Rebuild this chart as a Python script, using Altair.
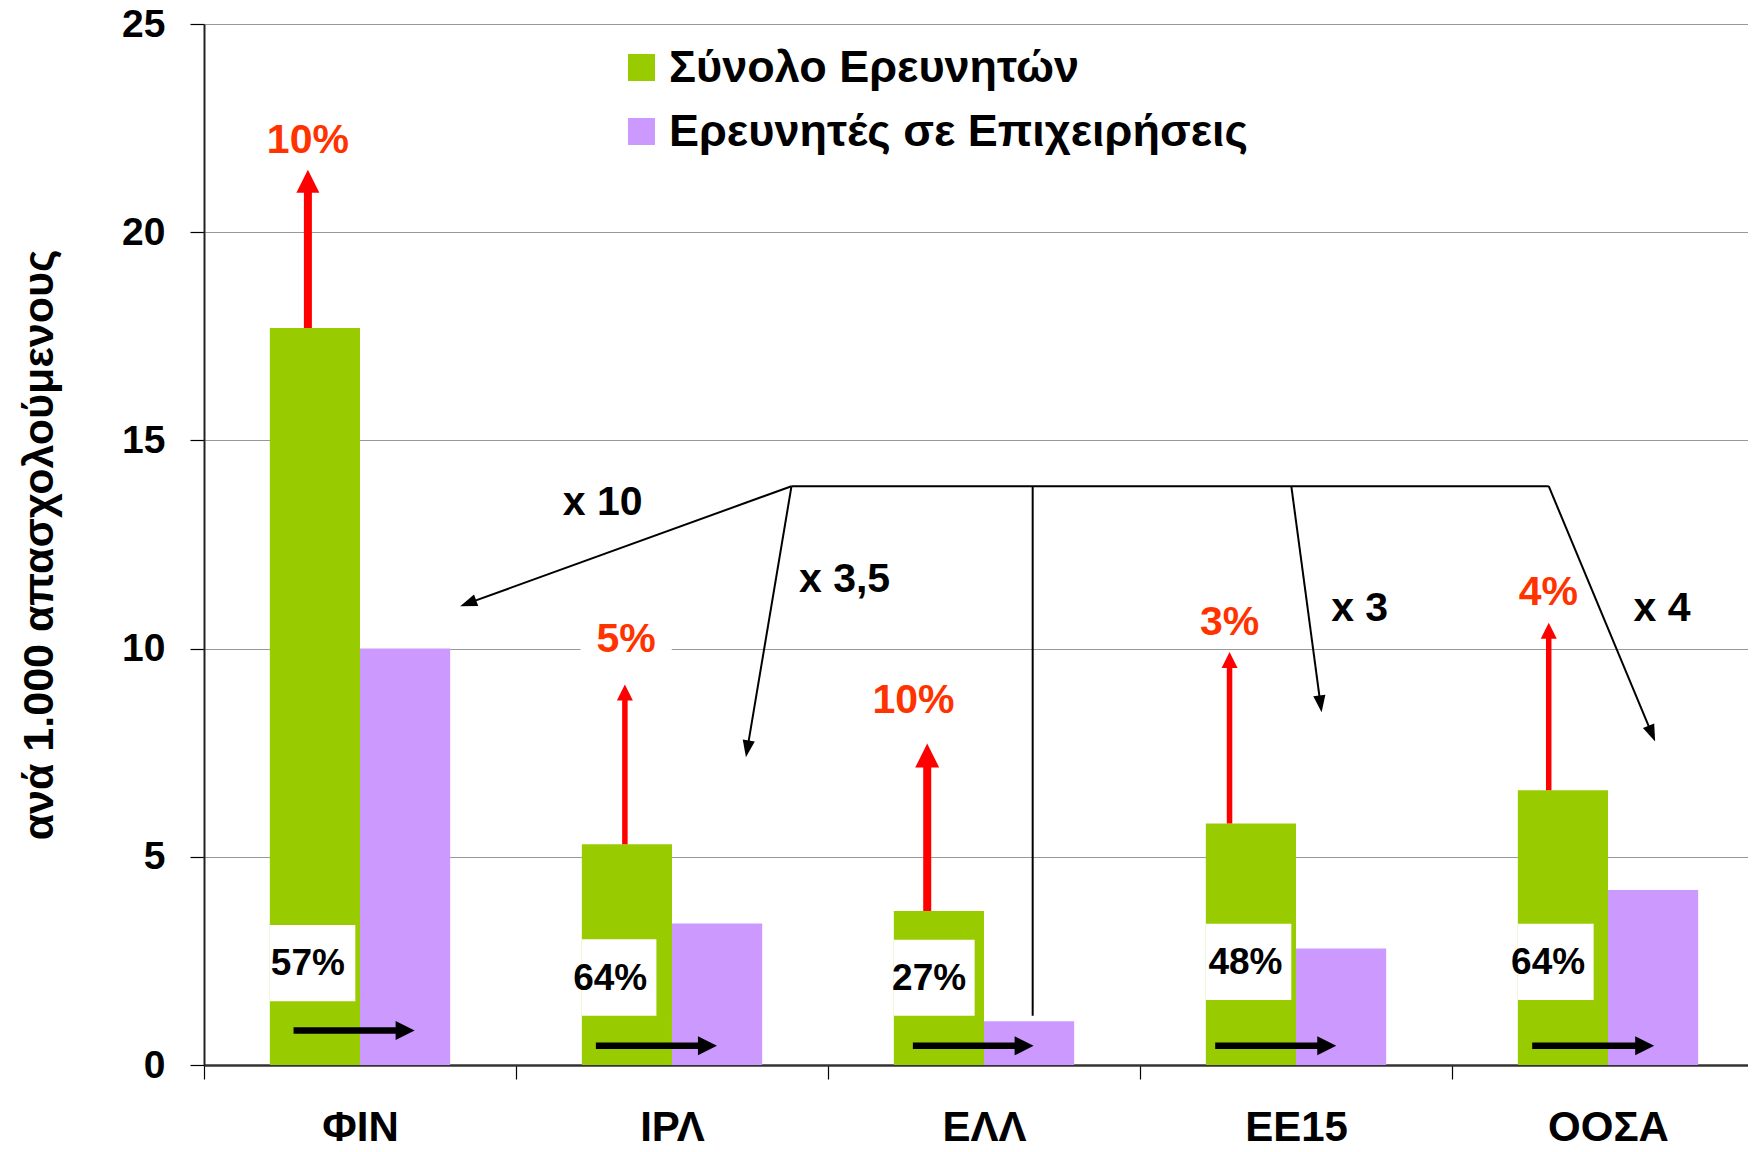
import math
import json
import altair as alt
import pandas as pd

# ---------------- data ----------------
categories = ["ΦΙΝ", "ΙΡΛ", "ΕΛΛ", "ΕΕ15", "ΟΟΣΑ"]
series_names = ["Σύνολο Ερευνητών", "Ερευνητές σε Επιχειρήσεις"]
total_researchers = [17.7, 5.3, 3.7, 5.8, 6.6]
business_researchers = [10.0, 3.4, 1.05, 2.8, 4.2]
y_ticks = [0, 5, 10, 15, 20, 25]
y_title = "ανά 1.000 απασχολούμενους"

# share of business researchers (black labels in white boxes)
share_labels = ["57%", "64%", "27%", "48%", "64%"]
# growth labels (red, above the red arrows)
growth_labels = ["10%", "5%", "10%", "3%", "4%"]
growth_tip_values = [21.5, 9.14, 7.72, 9.92, 10.62]
growth_label_values = [22.18, 10.2, 8.74, 10.62, 11.34]
# multiplier annotations
multiplier_labels = ["x 10", "x 3,5", "x 3", "x 4"]

# ---------------- annotation geometry (data units) ----------------
W, H = 1544, 1041
PX_X = 312.0
X_MAX = W / PX_X
PX_Y = H / 25.0
BAR_W = 0.289
n = len(categories)
centers = [i + 0.5 for i in range(n)]

growth_arrow_dx = [-0.167, -0.151, -0.182, -0.213, -0.19]
growth_label_u = [0.333, 1.353, 2.274, 3.287, 4.309]
growth_line_w = [8, 5.5, 8, 5.5, 5.5]
growth_head = [23, 16, 24, 16, 16]

share_arrow_u0 = [0.287, 1.256, 2.272, 3.241, 4.257]
share_arrow_u1 = [0.675, 1.644, 2.659, 3.629, 4.648]
share_arrow_v = [0.83, 0.46, 0.46, 0.46, 0.46]
share_box_u1 = [0.485, 1.450, 2.470, 3.485, 4.454]
share_box_top = [3.36, 3.02, 3.01, 3.39, 3.39]
share_box_bottom = [1.53, 1.18, 1.18, 1.56, 1.56]
share_text_u = [0.333, 1.302, 2.324, 3.338, 4.308]
share_text_v = [2.42, 2.07, 2.07, 2.45, 2.45]

hub_v = 13.9
hub_u0, hub_u1 = 1.883, 4.310
mult_start_u = [1.883, 1.883, 3.485, 4.310]
mult_tip_u = [0.821, 1.737, 3.582, 4.651]
mult_tip_v = [11.02, 7.39, 8.47, 7.77]
drop_u, drop_v = 2.656, 1.18
mult_label_u = [1.278, 2.053, 3.704, 4.673]
mult_label_v = [13.49, 11.64, 10.94, 10.94]

GREEN = "#99CC00"
PURPLE = "#CC99FF"
RED = "#FF0000"
RED_TEXT = "#FF3300"
FONT = "Liberation Sans"
HEAD_WIDE = "M0,0L-0.5,1L0.5,1Z"
HEAD_THIN = "M0,0L-0.36,1L0.36,1Z"


def arrow(u0, v0, u1, v1, head_len):
    dx = (u1 - u0) * PX_X
    dy = -(v1 - v0) * PX_Y
    d = math.hypot(dx, dy)
    f = max(d - head_len * 0.9, 0) / d
    ang = math.degrees(math.atan2(dx, -dy)) % 360
    return u0 + (u1 - u0) * f, v0 + (v1 - v0) * f, ang


# ---------------- tables ----------------
bars = pd.DataFrame({
    "series": [series_names[0]] * n + [series_names[1]] * n,
    "u0": [c - BAR_W for c in centers] + centers,
    "u1": centers + [c + BAR_W for c in centers],
    "v": total_researchers + business_researchers,
    "base": [0.0] * (2 * n),
})

share_boxes = pd.DataFrame({
    "u0": [c - BAR_W for c in centers],
    "u1": share_box_u1,
    "v0": share_box_bottom,
    "v1": share_box_top,
})
growth_boxes = pd.DataFrame({
    "u0": [u - 0.146 for u in growth_label_u],
    "u1": [u + 0.146 for u in growth_label_u],
    "v0": [v - 0.62 for v in growth_label_values],
    "v1": [v + 0.62 for v in growth_label_values],
})

# red growth arrows
g_rows, g_heads = [], []
for i in range(n):
    u = centers[i] + growth_arrow_dx[i]
    ue, ve, ang = arrow(u, total_researchers[i], u, growth_tip_values[i], growth_head[i])
    g_rows.append({"u0": u, "v0": total_researchers[i], "u1": ue, "v1": ve, "w": growth_line_w[i]})
    g_heads.append({"u": u, "v": growth_tip_values[i], "a": ang, "s": (2 * growth_head[i]) ** 2})
growth_rules = pd.DataFrame(g_rows)
growth_heads = pd.DataFrame(g_heads)

# black horizontal arrows
s_rows, s_heads = [], []
for i in range(n):
    ue, ve, ang = arrow(share_arrow_u0[i], share_arrow_v[i], share_arrow_u1[i], share_arrow_v[i], 19)
    s_rows.append({"u0": share_arrow_u0[i], "v0": share_arrow_v[i], "u1": ue, "v1": ve})
    s_heads.append({"u": share_arrow_u1[i], "v": share_arrow_v[i], "a": ang, "s": (2 * 19) ** 2})
share_rules = pd.DataFrame(s_rows)
share_heads = pd.DataFrame(s_heads)

# thin multiplier lines
m_rows = [{"u0": hub_u0, "v0": hub_v, "u1": hub_u1, "v1": hub_v},
          {"u0": drop_u, "v0": hub_v, "u1": drop_u, "v1": drop_v}]
m_heads = []
for i in range(len(mult_tip_u)):
    ue, ve, ang = arrow(mult_start_u[i], hub_v, mult_tip_u[i], mult_tip_v[i], 17)
    m_rows.append({"u0": mult_start_u[i], "v0": hub_v, "u1": ue, "v1": ve})
    m_heads.append({"u": mult_tip_u[i], "v": mult_tip_v[i], "a": ang, "s": (2 * 17) ** 2})
mult_rules = pd.DataFrame(m_rows)
mult_heads = pd.DataFrame(m_heads)

share_text = pd.DataFrame({"u": share_text_u, "v": share_text_v, "label": share_labels})
growth_text = pd.DataFrame({"u": growth_label_u, "v": growth_label_values, "label": growth_labels})
mult_text = pd.DataFrame({"u": mult_label_u, "v": mult_label_v, "label": multiplier_labels})

# ---------------- scales & axes ----------------
X_SCALE = alt.Scale(domain=[0, X_MAX], nice=False, zero=False)
Y_SCALE = alt.Scale(domain=[0, 25], nice=False)
label_expr = json.dumps(categories, ensure_ascii=False) + "[datum.value]"
x_axis = alt.Axis(
    values=list(range(n)), labelExpr=label_expr, labelOffset=PX_X / 2,
    labelFlush=False, labelOverlap=False, labelBound=False,
    labelFont=FONT, labelFontSize=42, labelFontWeight="bold", labelColor="black",
    labelBaseline="middle", labelPadding=48,
    tickSize=14, tickColor="black", tickWidth=1.2,
    domainColor="#333333", domainWidth=2.5, grid=False, title=None,
)
y_axis = alt.Axis(
    values=y_ticks, grid=True, gridColor="#999999", gridWidth=1.2,
    domainColor="#222222", domainWidth=2, tickColor="black", tickSize=14, tickWidth=1.2,
    labelFont=FONT, labelFontSize=39, labelFontWeight="bold", labelColor="black",
    labelPadding=25, title=y_title, titleFont=FONT, titleFontSize=43,
    titleFontWeight="bold", titleColor="black", titleAngle=270,
    titleX=-165, titleY=H / 2, titleAlign="center", titleBaseline="middle",
)


def X(f):
    return alt.X(f, type="quantitative", scale=X_SCALE, axis=x_axis)


def Y(f):
    return alt.Y(f, type="quantitative", scale=Y_SCALE, axis=y_axis)


bar_layer = alt.Chart(bars).mark_bar(strokeWidth=0).encode(
    x=X("u0"), x2="u1", y=Y("v"), y2="base",
    color=alt.Color("series:N", scale=alt.Scale(domain=series_names, range=[GREEN, PURPLE]),
                    legend=alt.Legend(orient="none", legendX=415, legendY=21, title=None,
                                      symbolType="square", symbolSize=729, symbolStrokeWidth=0,
                                      symbolOpacity=1, labelFont=FONT, labelFontSize=45,
                                      labelFontWeight="bold", labelColor="black", labelLimit=1000,
                                      labelOffset=5, rowPadding=18, padding=0)),
)

box1 = alt.Chart(share_boxes).mark_rect(color="white").encode(x=X("u0"), x2="u1", y=Y("v0"), y2="v1")
box2 = alt.Chart(growth_boxes).mark_rect(color="white").encode(x=X("u0"), x2="u1", y=Y("v0"), y2="v1")

mult_line = alt.Chart(mult_rules).mark_rule(color="black", strokeWidth=2).encode(
    x=X("u0"), x2="u1", y=Y("v0"), y2="v1")
mult_head = alt.Chart(mult_heads).mark_point(shape=HEAD_THIN, filled=True, color="black", opacity=1).encode(
    x=X("u"), y=Y("v"), angle=alt.Angle("a:Q", scale=None), size=alt.Size("s:Q", scale=None))

growth_line = alt.Chart(growth_rules).mark_rule(color=RED).encode(
    x=X("u0"), x2="u1", y=Y("v0"), y2="v1", strokeWidth=alt.StrokeWidth("w:Q", scale=None))
growth_head = alt.Chart(growth_heads).mark_point(shape=HEAD_WIDE, filled=True, color=RED, opacity=1).encode(
    x=X("u"), y=Y("v"), angle=alt.Angle("a:Q", scale=None), size=alt.Size("s:Q", scale=None))

share_line = alt.Chart(share_rules).mark_rule(color="black", strokeWidth=6.5).encode(
    x=X("u0"), x2="u1", y=Y("v0"), y2="v1")
share_head = alt.Chart(share_heads).mark_point(shape=HEAD_WIDE, filled=True, color="black", opacity=1).encode(
    x=X("u"), y=Y("v"), angle=alt.Angle("a:Q", scale=None), size=alt.Size("s:Q", scale=None))

t_share = alt.Chart(share_text).mark_text(font=FONT, fontSize=37, fontWeight="bold", color="black",
                                          align="center", baseline="middle").encode(
    x=X("u"), y=Y("v"), text="label:N")
t_growth = alt.Chart(growth_text).mark_text(font=FONT, fontSize=41, fontWeight="bold", color=RED_TEXT,
                                            align="center", baseline="middle").encode(
    x=X("u"), y=Y("v"), text="label:N")
t_mult = alt.Chart(mult_text).mark_text(font=FONT, fontSize=41, fontWeight="bold", color="black",
                                        align="center", baseline="middle").encode(
    x=X("u"), y=Y("v"), text="label:N")

chart = alt.layer(
    bar_layer, box1, box2, mult_line, mult_head, growth_line, growth_head,
    share_line, share_head, t_share, t_growth, t_mult,
).properties(
    width=W, height=H,
    autosize=alt.AutoSizeParams(type="none"),
    padding={"left": 196, "top": 16, "right": 0, "bottom": 79},
).configure_view(strokeWidth=0)

chart.save("out.html", embed_options={"renderer": "svg", "actions": False})
